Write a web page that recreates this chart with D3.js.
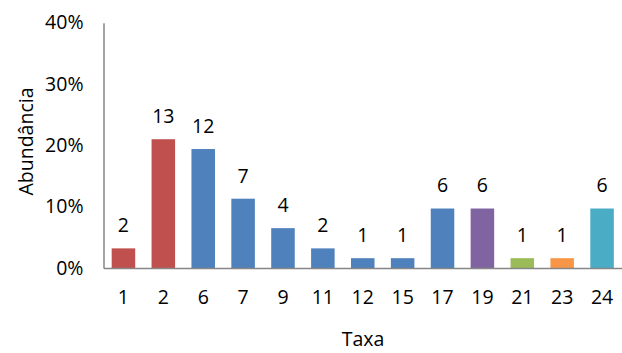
<!DOCTYPE html>
<html>
<head>
<meta charset="utf-8">
<script src="https://cdn.jsdelivr.net/npm/d3@7"></script>
<style>
  html, body { margin: 0; padding: 0; background: #fff; }
  svg { display: block; }
  text { font-family: "Open Sans", Lato, sans-serif; fill: #000; }
</style>
</head>
<body>
<script>
// ---- data ----
const categories = ["1", "2", "6", "7", "9", "11", "12", "15", "17", "19", "21", "23", "24"];
const percentValues = [3.2, 21.0, 19.4, 11.3, 6.5, 3.2, 1.6, 1.6, 9.7, 9.7, 1.6, 1.6, 9.7];
const countLabels = ["2", "13", "12", "7", "4", "2", "1", "1", "6", "6", "1", "1", "6"];
const barColors = ["#C0504D", "#C0504D", "#4F81BD", "#4F81BD", "#4F81BD", "#4F81BD", "#4F81BD",
                   "#4F81BD", "#4F81BD", "#8064A2", "#9BBB59", "#F79646", "#4BACC6"];
const yTicks = [0, 10, 20, 30, 40];
const yTitle = "Abundância";
const xTitle = "Taxa";

(function () {
const W = 622, H = 353;
const mLeft = 103.5, mRight = 622, mTop = 22.7, mBottom = 268;
const fs = 19.5;
const ff = "'Open Sans', Lato, sans-serif";

const svg = d3.select("body").append("svg").attr("width", W).attr("height", H);

const x = d3.scaleBand().domain(categories).range([mLeft, mRight]).paddingInner(0.41).paddingOuter(0.205);
const y = d3.scaleLinear().domain([0, 40]).range([mBottom, mTop]);

const data = categories.map((c, i) => ({ c, v: percentValues[i], n: countLabels[i], col: barColors[i] }));

// bars
svg.selectAll("rect.bar").data(data).enter().append("rect")
  .attr("class", "bar")
  .attr("x", d => x(d.c))
  .attr("width", x.bandwidth())
  .attr("y", d => y(d.v))
  .attr("height", d => y(0) - y(d.v))
  .attr("fill", d => d.col);

// data labels
svg.selectAll("text.lbl").data(data).enter().append("text")
  .attr("class", "lbl")
  .attr("x", d => x(d.c) + x.bandwidth() / 2)
  .attr("y", d => y(d.v) - 23)
  .attr("dy", "0.35em")
  .attr("text-anchor", "middle")
  .style("font-size", fs + "px")
  .text(d => d.n);

// y axis
const yAxis = d3.axisLeft(y).tickValues(yTicks).tickSize(0).tickPadding(20).tickFormat(d => d + "%");
const gy = svg.append("g").attr("transform", `translate(${mLeft},0)`).call(yAxis);
gy.select(".domain").attr("stroke", "#868686").attr("stroke-width", 1.5);
gy.selectAll("text").style("font-size", fs + "px").style("font-family", ff).attr("fill", "#000");

// x axis
const xAxis = d3.axisBottom(x).tickSize(0).tickPadding(22);
const gx = svg.append("g").attr("transform", `translate(0,${mBottom})`).call(xAxis);
gx.select(".domain").attr("stroke", "#868686").attr("stroke-width", 1.5);
gx.selectAll("text").style("font-size", fs + "px").style("font-family", ff).attr("fill", "#000");

// axis titles
svg.append("text")
  .attr("transform", `translate(33,141.5) rotate(-90)`)
  .attr("text-anchor", "middle")
  .style("font-size", fs + "px")
  .text(yTitle);

svg.append("text")
  .attr("x", 363).attr("y", 345.5)
  .attr("text-anchor", "middle")
  .style("font-size", fs + "px")
  .text(xTitle);
})();
</script>
</body>
</html>
